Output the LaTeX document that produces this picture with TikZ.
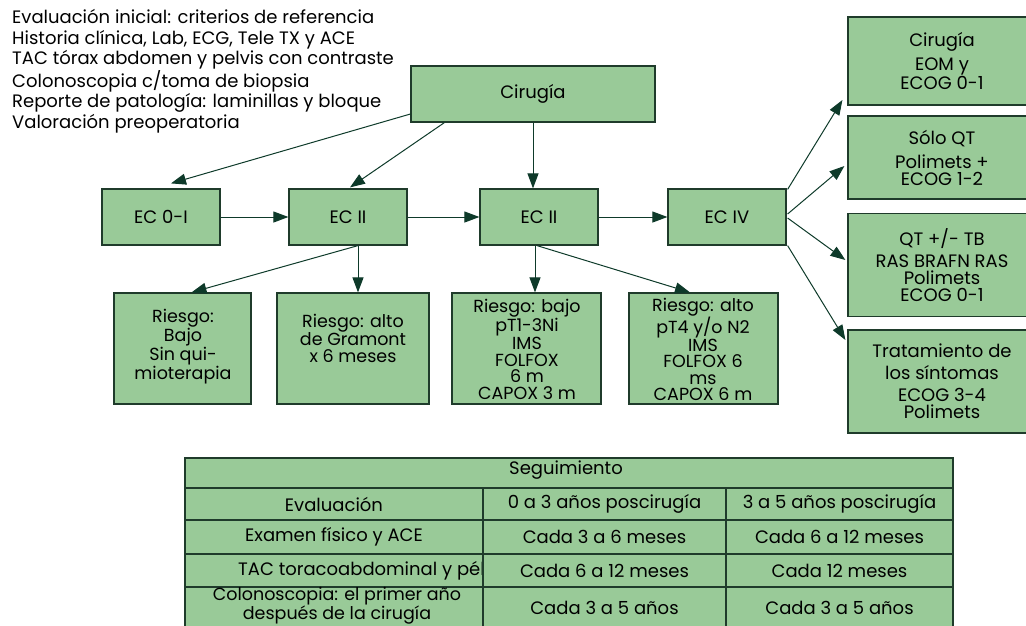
\documentclass[tikz,border=0pt]{standalone}
\usepackage{fontspec}
\setmainfont{Poppins}
\usetikzlibrary{arrows.meta,calc}
\definecolor{boxfill}{HTML}{99CA98}
\definecolor{edgec}{HTML}{1F3B2B}
\definecolor{arrowc}{HTML}{0E3A2A}
\begin{document}
\begin{tikzpicture}[x=1pt,y=-1pt,
  box/.style={draw=edgec, line width=1.2pt, fill=boxfill, inner sep=0pt, align=center,
              font=\fontsize{18}{17}\selectfont},
  txt/.style={align=center, inner sep=0pt, font=\fontsize{17.5}{16.5}\selectfont},
  cell/.style={draw=edgec, line width=1.1pt, fill=boxfill, inner sep=0pt, align=center,
               font=\fontsize{18}{15}\selectfont},
  conn/.style={draw=arrowc, line width=1pt, -{Triangle[length=15pt,width=11pt]}},
]
\useasboundingbox (0,0) rectangle (1026,625);

% initial work-up list
\node[anchor=north west, align=left, inner sep=0pt, font=\fontsize{18}{20.6}\selectfont] (intro) at (12,9)
  {Evaluación inicial: criterios de referencia\\
   Historia clínica, Lab, ECG, Tele TX y ACE\\
   TAC tórax abdomen y pelvis con contraste\\
   Colonoscopia c/toma de biopsia\\
   Reporte de patología: laminillas y bloque\\
   Valoración preoperatoria};

% top and stage boxes
\node[box, minimum width=244, minimum height=56] (cir) at (533,94) {Cirugía};
\node[box, minimum width=118, minimum height=56] (ec0) at (161,217) {EC 0-I};
\node[box, minimum width=118, minimum height=56] (ec2a) at (348,217) {EC II};
\node[box, minimum width=118, minimum height=56] (ec2b) at (539,217) {EC II};
\node[box, minimum width=118, minimum height=56] (ec4) at (727,217) {EC IV};

% risk boxes
\node[box, minimum width=137, minimum height=111] (bajo) at (182.5,348.5) {};
\node[box, minimum width=152, minimum height=111] (gram) at (353,348.5) {};
\node[box, minimum width=149, minimum height=111] (pt1) at (526.5,348.5) {};
\node[box, minimum width=149, minimum height=111] (pt4) at (703.5,348.5) {};
\node[txt] (bajot) at (183,346.5) {Riesgo:\\Bajo\\Sin qui-\\mioterapia};
\node[txt] (gramt) at (353,338) {Riesgo: alto\\de Gramont\\x 6 meses};
\node[txt] (pt1t) at (527,349.5) {Riesgo: bajo\\pT1-3Ni\\IMS\\FOLFOX\\6 m\\CAPOX 3 m};
\node[txt] (pt4t) at (703,349.5) {Riesgo: alto\\pT4 y/o N2\\IMS\\FOLFOX 6\\ms\\CAPOX 6 m};

% stage IV options
\node[box, minimum width=188, minimum height=88] (r1) at (942,61) {Cirugía\\[6pt]EOM y\\ECOG 0-1};
\node[box, minimum width=188, minimum height=83] (r2) at (942,157.5) {Sólo QT\\[7pt]Polimets +\\ECOG 1-2};
\node[box, minimum width=188, minimum height=103] (r3) at (942,265) {QT +/- TB\\[5pt]RAS BRAFN RAS\\Polimets\\ECOG 0-1};
\node[box, minimum width=188, minimum height=103] (r4) at (942,381.5) {Tratamiento de\\[5pt]los síntomas\\[5pt]ECOG 3-4\\Polimets};

% connectors
\draw[conn] ($(cir.west)+(0,20)$) -- ($(ec0.north)+(10,-5)$);
\draw[conn] ($(cir.south west)+(34,0)$) -- ($(ec2a.north)+(2,-1)$);
\draw[conn] (cir.south) -- (cir.south |- ec2b.north);
\draw[conn] (ec0.east) -- (ec2a.west);
\draw[conn] (ec2a.east) -- (ec2b.west);
\draw[conn] (ec2b.east) -- (ec4.west);
\draw[conn] ($(ec2a.south)+(10,0)$) -- ($(bajo.north)+(9,0)$);
\draw[conn] ($(ec2a.south)+(10,0)$) -- ($(gram.north)+(5,0)$);
\draw[conn] ($(ec2b.south)+(-4,0)$) -- ($(pt1.north)+(8.5,0)$);
\draw[conn] ($(ec2b.south)+(-2,0)$) -- ($(pt4.north)+(-13.5,0)$);
\draw[conn] ($(ec4.north east)+(1,1)$) -- ($(r1.west)+(-5,39)$);
\draw[conn] ($(ec4.east)+(1,-3)$) -- ($(r2.west)+(-3,8.5)$);
\draw[conn] ($(ec4.east)+(1,1)$) -- ($(r3.west)+(-2,-5)$);
\draw[conn] ($(ec4.south east)+(1,0)$) -- ($(r4.west)+(-2,-41.5)$);

% follow-up table
\node[cell, minimum width=768, minimum height=30] (thead) at (569,473) {};
\node[cell, draw=none, fill=none] (theadt) at (566,470) {Seguimiento};
\node[cell, minimum width=298, minimum height=32] (a1) at (334,504) {Evaluación};
\node[cell, minimum width=243, minimum height=32] (a2) at (604.5,504) {0 a 3 años poscirugía};
\node[cell, minimum width=227, minimum height=32] (a3) at (839.5,504) {3 a 5 años poscirugía};
\node[cell, minimum width=298, minimum height=34] (b1) at (334,537) {Examen físico y ACE};
\node[cell, minimum width=243, minimum height=34] (b2) at (604.5,537) {Cada 3 a 6 meses};
\node[cell, minimum width=227, minimum height=34] (b3) at (839.5,537) {Cada 6 a 12 meses};
\node[cell, minimum width=298, minimum height=33] (c1) at (334,570.5) {};
\begin{scope}
  \clip (185,554) rectangle (483,587);
  \node[anchor=west, inner sep=0pt, font=\fontsize{18}{15}\selectfont] (c1t) at (238,570.5) {TAC toracoabdominal y pélvica};
\end{scope}
\node[cell, minimum width=243, minimum height=33] (c2) at (604.5,570.5) {Cada 6 a 12 meses};
\node[cell, minimum width=227, minimum height=33] (c3) at (839.5,570.5) {Cada 12 meses};
\node[cell, minimum width=298, minimum height=42] (d1) at (334,608) {};
\node[inner sep=0pt, align=center, font=\fontsize{17.5}{15}\selectfont] (d1t) at (337,605.5) {Colonoscopia: el primer año\\después de la cirugía};
\node[cell, minimum width=243, minimum height=42] (d2) at (604.5,608) {Cada 3 a 5 años};
\node[cell, minimum width=227, minimum height=42] (d3) at (839.5,608) {Cada 3 a 5 años};
\end{tikzpicture}
\end{document}
